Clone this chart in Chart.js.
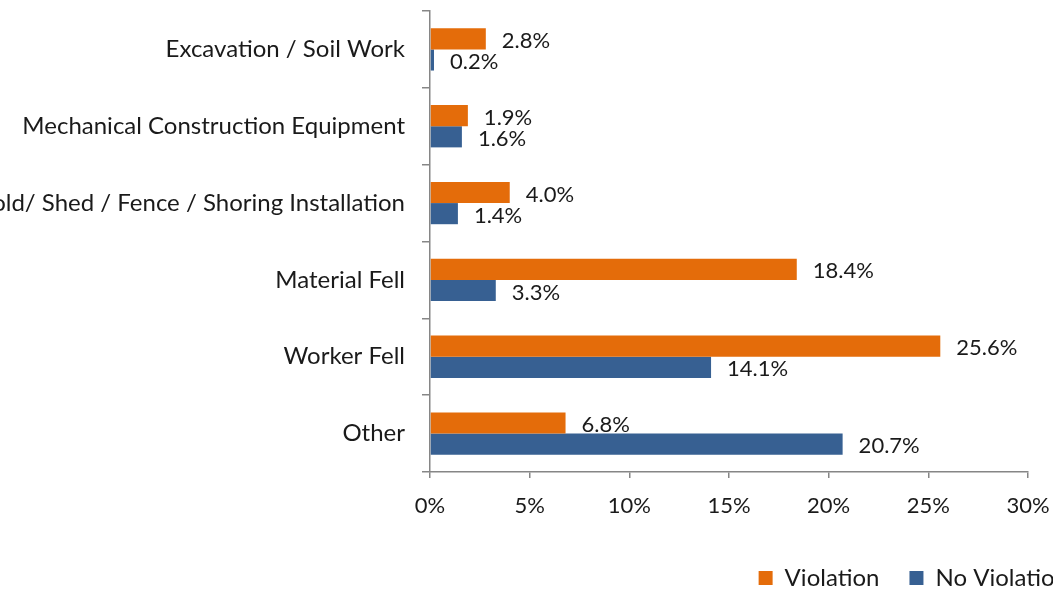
<!DOCTYPE html>
<html>
<head>
<meta charset="utf-8">
<script src="https://cdn.jsdelivr.net/npm/chart.js@4"></script>
<style>
  html, body { margin: 0; padding: 0; background: #fff; overflow: hidden; }
  #wrap { width: 1098px; height: 600px; }
</style>
</head>
<body>
<div id="wrap"><canvas id="myChart"></canvas></div>
<script>
const categories = [
    'Excavation / Soil Work',
    'Mechanical Construction Equipment',
    'Scaffold/ Shed / Fence / Shoring Installation',
    'Material Fell',
    'Worker Fell',
    'Other'
];
const violation = [2.8, 1.9, 4.0, 18.4, 25.6, 6.8];
const noViolation = [0.2, 1.6, 1.4, 3.3, 14.1, 20.7];
const xTicks = [0, 5, 10, 15, 20, 25, 30];

const FONT = "Lato, 'Open Sans', sans-serif";
const axisGrey = '#868686';

// value labels to the right of each bar
const barLabels = {
    id: 'barLabels',
    afterDatasetsDraw(chart) {
        const ctx = chart.ctx;
        ctx.save();
        ctx.font = '22px ' + FONT;
        ctx.fillStyle = '#1a1a1a';
        ctx.textAlign = 'left';
        ctx.textBaseline = 'middle';
        chart.data.datasets.forEach((ds, i) => {
            chart.getDatasetMeta(i).data.forEach((bar, j) => {
                ctx.fillText(ds.data[j].toFixed(1) + '%', bar.x + 16, bar.y + 2);
            });
        });
        ctx.restore();
    }
};

const ctx = document.getElementById('myChart');
const myChart = new Chart(ctx, {
    type: 'bar',
    data: {
        labels: categories,
        datasets: [{
            label: 'Violation',
            data: violation,
            backgroundColor: '#E46C0A',
            borderWidth: 0,
            barPercentage: 1,
            categoryPercentage: 0.55
        }, {
            label: 'No Violation',
            data: noViolation,
            backgroundColor: '#376092',
            borderWidth: 0,
            barPercentage: 1,
            categoryPercentage: 0.55
        }]
    },
    options: {
        indexAxis: 'y',
        responsive: true,
        maintainAspectRatio: false,
        animation: false,
        layout: { padding: { top: 11, left: 0, right: 0, bottom: 0 } },
        plugins: {
            tooltip: { enabled: false },
            legend: {
                position: 'bottom',
                align: 'end',
                labels: {
                    boxWidth: 14,
                    boxHeight: 14,
                    padding: 30,
                    color: '#1a1a1a',
                    font: { family: FONT, size: 24 }
                }
            }
        },
        scales: {
            x: {
                min: 0,
                max: 30,
                afterBuildTicks(scale) {
                    scale.ticks = xTicks.map(v => ({ value: v }));
                },
                afterFit(scale) {
                    scale.height = 64;
                    scale.paddingRight = 70;
                    scale.paddingLeft = 0;
                },
                border: { display: true, color: axisGrey, width: 1.5 },
                grid: { drawOnChartArea: false, drawTicks: true, tickLength: 6, color: axisGrey, lineWidth: 1.5 },
                ticks: {
                    padding: 15,
                    color: '#1a1a1a',
                    font: { family: FONT, size: 22 },
                    callback: v => v + '%'
                }
            },
            y: {
                afterFit(scale) {
                    scale.width = 430;
                    scale.paddingTop = 0;
                    scale.paddingBottom = 0;
                },
                border: { display: true, color: axisGrey, width: 1.5 },
                grid: { drawOnChartArea: false, drawTicks: true, tickLength: 8, color: axisGrey, lineWidth: 1.5 },
                ticks: {
                    padding: 17,
                    color: '#1a1a1a',
                    font: { family: FONT, size: 24 }
                }
            }
        }
    },
    plugins: [barLabels]
});
</script>
</body>
</html>
